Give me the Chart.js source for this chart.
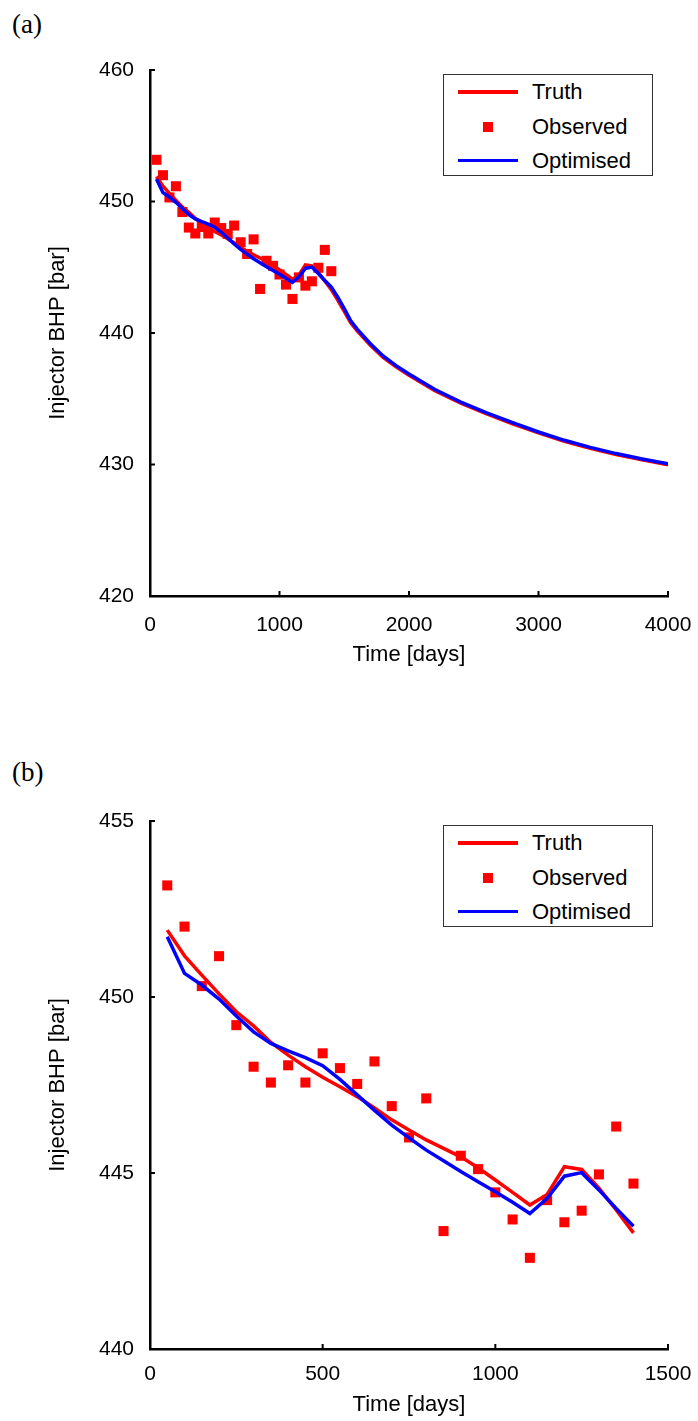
<!DOCTYPE html>
<html>
<head>
<meta charset="utf-8">
<script src="https://cdn.jsdelivr.net/npm/chart.js@4.4.1/dist/chart.umd.min.js"></script>
<style>
body { margin: 0; background: #fff; width: 698px; height: 1421px; position: relative; overflow: hidden; }
canvas { position: absolute; left: 0; }
.tag { position: absolute; left: 12px; font-family: "Liberation Serif", "Times New Roman", serif; font-size: 27px; line-height: 27px; color: #000; }
.legend { position: absolute; left: 443px; width: 208px; height: 100px; border: 1.5px solid #333; background: #fff;
  font-family: "Liberation Sans", Arial, sans-serif; font-size: 22px; color: #000; }
.row { position: absolute; left: 0; width: 100%; height: 30px; }
.row .line { position: absolute; left: 14px; width: 60px; height: 3.5px; top: 13px; }
.row .dot { position: absolute; left: 39px; width: 10px; height: 10px; top: 10px; }
.row span { position: absolute; left: 88px; top: 2px; line-height: 26px; }
</style>
</head>
<body>
<div class="tag" style="top:11px">(a)</div>
<canvas id="chartA" width="698" height="710" style="top:0"></canvas>
<div class="legend" id="legendA" style="top:74px"></div>

<div class="tag" style="top:759px">(b)</div>
<canvas id="chartB" width="698" height="711" style="top:710px"></canvas>
<div class="legend" id="legendB" style="top:825px"></div>

<script>
// observed data, every 50 days
const obsDays = [50, 100, 150, 200, 250, 300, 350, 400, 450, 500, 550, 600, 650, 700,
  750, 800, 850, 900, 950, 1000, 1050, 1100, 1150, 1200, 1250, 1300, 1350, 1400];
const observed = [453.17, 452.0, 450.31, 451.16, 449.2, 448.02, 447.57, 448.06, 447.57, 448.4,
  447.98, 447.53, 448.17, 446.9, 446.01, 447.12, 443.35, 445.49, 445.11, 444.45,
  443.68, 442.59, 444.23, 443.6, 443.93, 444.96, 446.32, 444.7];

// simulated curves: same 50-day steps, then the prediction up to 4000 days
const tailDays = [1450, 1500, 1550, 1600, 1700, 1800, 1900, 2000, 2200, 2400, 2600,
  2800, 3000, 3200, 3400, 3600, 3800, 4000];
const truthEarly = [451.9, 451.17, 450.62, 450.09, 449.58, 449.18, 448.71, 448.35, 448.02, 447.72,
  447.45, 447.17, 446.85, 446.51, 446.22, 445.94, 445.7, 445.46, 445.15, 444.8,
  444.45, 444.09, 444.39, 445.18, 445.1, 444.57, 443.95, 443.3];
const truthTail = [442.5, 441.65, 440.78, 440.17, 439.08, 438.14, 437.42, 436.78, 435.61, 434.66,
  433.85, 433.1, 432.4, 431.77, 431.23, 430.76, 430.35, 429.97];
const optEarly = [451.71, 450.67, 450.34, 449.94, 449.46, 449.01, 448.68, 448.47, 448.28, 448.05,
  447.66, 447.22, 446.78, 446.36, 446.0, 445.65, 445.35, 445.04, 444.75, 444.47,
  444.17, 443.85, 444.28, 444.91, 445.01, 444.52, 443.99, 443.49];
const optTail = [442.72, 441.85, 440.92, 440.3, 439.2, 438.25, 437.52, 436.88, 435.7, 434.75,
  433.93, 433.18, 432.47, 431.84, 431.3, 430.83, 430.42, 430.05];

const lineDays = obsDays.concat(tailDays);
const truth = truthEarly.concat(truthTail);
const optimised = optEarly.concat(optTail);

const FONT = '"Liberation Sans", Arial, sans-serif';

function pts(xs, ys, maxX) {
  return xs.map((x, i) => ({ x: x, y: ys[i] })).filter(p => p.x <= maxX);
}

// ticks pointing into the plot, like the matlab figure
const inwardTicks = {
  id: 'inwardTicks',
  afterDraw(chart) {
    const { ctx, chartArea: a, scales: { x, y } } = chart;
    ctx.save();
    ctx.strokeStyle = '#000';
    ctx.lineWidth = 2;
    ctx.beginPath();
    x.ticks.forEach(t => {
      const px = x.getPixelForValue(t.value);
      ctx.moveTo(px, a.bottom);
      ctx.lineTo(px, a.bottom - 5);
    });
    y.ticks.forEach(t => {
      const py = y.getPixelForValue(t.value);
      ctx.moveTo(a.left, py);
      ctx.lineTo(a.left + 5, py);
    });
    ctx.stroke();
    ctx.restore();
  }
};

function makeChart(id, xMax, lineMax, xStep, yMin, yMax, yStep, padTop, xAxisH, labelPad, titlePad) {
  const ctx = document.getElementById(id).getContext('2d');
  return new Chart(ctx, {
    type: 'line',
    data: {
      datasets: [
        {
          label: 'Truth',
          data: pts(lineDays, truth, lineMax),
          borderColor: '#ff0000',
          borderWidth: 3.5,
          pointRadius: 0,
          fill: false,
          order: 1
        },
        {
          label: 'Observed',
          data: pts(obsDays, observed, lineMax),
          showLine: false,
          pointStyle: 'rect',
          pointRadius: 7.1,
          pointBorderWidth: 0,
          pointBackgroundColor: '#ff0000',
          borderColor: '#ff0000',
          order: 2
        },
        {
          label: 'Optimised',
          data: pts(lineDays, optimised, lineMax),
          borderColor: '#0000ff',
          borderWidth: 3.5,
          pointRadius: 0,
          fill: false,
          order: 0
        }
      ]
    },
    options: {
      responsive: false,
      animation: false,
      devicePixelRatio: 1,
      layout: { padding: { left: 0, right: 30, top: padTop, bottom: 0 } },
      plugins: { legend: { display: false }, tooltip: { enabled: false } },
      scales: {
        x: {
          type: 'linear',
          min: 0, max: xMax,
          grid: { display: false, drawTicks: false },
          border: { display: true, color: '#000', width: 2.5 },
          ticks: { stepSize: xStep, padding: labelPad, color: '#000', maxRotation: 0,
                   font: { family: FONT, size: 21 }, callback: v => String(v) },
          title: { display: true, text: 'Time [days]', color: '#000',
                   font: { family: FONT, size: 22 }, padding: { top: 0, bottom: titlePad } },
          afterFit: s => { s.height = xAxisH; s.paddingLeft = 0; s.paddingRight = 0; }
        },
        y: {
          min: yMin, max: yMax,
          grid: { display: false, drawTicks: false },
          border: { display: true, color: '#000', width: 2.5 },
          ticks: { stepSize: yStep, padding: 16, color: '#000',
                   font: { family: FONT, size: 21 }, callback: v => String(v) },
          title: { display: true, text: 'Injector BHP [bar]', color: '#000',
                   font: { family: FONT, size: 22 }, padding: { top: 44.8, bottom: 0 } },
          afterFit: s => { s.width = 150; s.paddingTop = 0; s.paddingBottom = 0; }
        }
      }
    },
    plugins: [inwardTicks]
  });
}

function buildLegend(el, chart) {
  const rows = [17, 51.5, 85.5];
  chart.data.datasets.forEach((ds, i) => {
    const row = document.createElement('div');
    row.className = 'row';
    row.style.top = (rows[i] - 15) + 'px';
    const mark = document.createElement('div');
    if (ds.showLine === false) {
      mark.className = 'dot';
      mark.style.background = ds.pointBackgroundColor;
    } else {
      mark.className = 'line';
      mark.style.background = ds.borderColor;
    }
    const txt = document.createElement('span');
    txt.textContent = ds.label;
    row.appendChild(mark);
    row.appendChild(txt);
    el.appendChild(row);
  });
}

const chartA = makeChart('chartA', 4000, 4000, 1000, 420, 460, 10, 70, 114, 17, 41.8);
const chartB = makeChart('chartB', 1500, 1400, 500, 440, 455, 5, 111, 72, 13, 2.8);
buildLegend(document.getElementById('legendA'), chartA);
buildLegend(document.getElementById('legendB'), chartB);
</script>
</body>
</html>
